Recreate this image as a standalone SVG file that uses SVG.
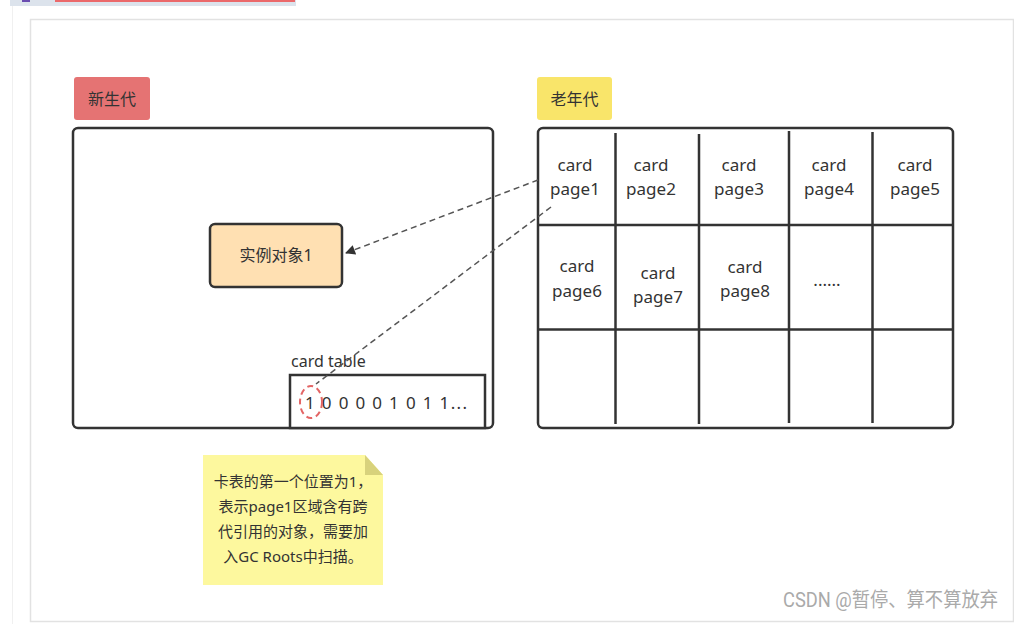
<svg xmlns="http://www.w3.org/2000/svg" width="1014" height="624" viewBox="0 0 1014 624">
<style>
.t{font-family:"Noto Sans","Noto Sans CJK SC",sans-serif;fill:#333;}
.c{font-size:17px;text-anchor:middle;}
.box{fill:none;stroke:#333;stroke-width:2.5;}
.grid{stroke:#333;stroke-width:2.5;}
.dash{fill:none;stroke:#555;stroke-width:1.5;stroke-dasharray:6 4;}
</style>
<defs>
<marker id="ah" viewBox="0 0 10 10" refX="9" refY="5" markerWidth="11" markerHeight="10" orient="auto" markerUnits="userSpaceOnUse">
<path d="M0,0 L10,5 L0,10 z" fill="#333"/>
</marker>
</defs>
<rect width="1014" height="624" fill="#fff"/>
<g id="page-chrome">
<rect x="10" y="0" width="286" height="6" fill="#dce3ec"/>
<line x1="55" y1="1" x2="295" y2="1" stroke="#f04040" stroke-width="1.5"/>
<rect x="22" y="0" width="8" height="2" fill="#6a4cb0"/>
<line x1="12.5" y1="6" x2="12.5" y2="624" stroke="#f0f0f0" stroke-width="1"/>
<rect x="30.5" y="19.5" width="983" height="602" fill="#fff" stroke="#e2e2e2" stroke-width="1.5"/>
</g>
<g id="young-label">
<rect x="74" y="77" width="76" height="43" rx="3" fill="#e57373"/>
<text class="t" x="112" y="105" font-size="16" text-anchor="middle">新生代</text>
</g>
<g id="young-gen">
<rect class="box" x="73" y="128" width="420" height="300" rx="5"/>
</g>
<g id="instance">
<rect x="210" y="224" width="132" height="63" rx="5" fill="#ffe0b2" stroke="#333" stroke-width="2.5"/>
<text class="t" x="276" y="261" font-size="16" text-anchor="middle">实例对象1</text>
</g>
<g id="card-table">
<text class="t" x="291" y="367" font-size="16">card table</text>
<rect x="290" y="375" width="195" height="53" fill="#fff" stroke="#333" stroke-width="2.5"/>
<text class="t" x="305" y="409" font-size="17" textLength="162" lengthAdjust="spacing" xml:space="preserve">1 0 0 0 0 1 0 1 1...</text>
<ellipse cx="311" cy="402" rx="11" ry="16" fill="none" stroke="#e36464" stroke-width="2" stroke-dasharray="6 4"/>
</g>
<g id="old-label">
<rect x="537" y="77" width="75" height="43" rx="3" fill="#f9e56a"/>
<text class="t" x="574.5" y="105" font-size="16" text-anchor="middle">老年代</text>
</g>
<g id="old-gen">
<rect class="box" x="538" y="128" width="415" height="300" rx="5"/>
<line class="grid" x1="615.5" y1="133" x2="615.5" y2="424"/>
<line class="grid" x1="699" y1="134" x2="699" y2="424"/>
<line class="grid" x1="789" y1="131" x2="789" y2="423"/>
<line class="grid" x1="872.5" y1="132" x2="872.5" y2="423"/>
<line class="grid" x1="538" y1="225" x2="953" y2="225"/>
<line class="grid" x1="538" y1="329.5" x2="953" y2="329.5"/>
</g>
<g id="pages">
<text class="t c" x="575" y="171">card</text><text class="t c" x="575" y="195">page1</text>
<text class="t c" x="651" y="171">card</text><text class="t c" x="651" y="195">page2</text>
<text class="t c" x="739" y="171">card</text><text class="t c" x="739" y="195">page3</text>
<text class="t c" x="829" y="171">card</text><text class="t c" x="829" y="195">page4</text>
<text class="t c" x="915" y="171">card</text><text class="t c" x="915" y="195">page5</text>
<text class="t c" x="577" y="272">card</text><text class="t c" x="577" y="297">page6</text>
<text class="t c" x="658" y="279">card</text><text class="t c" x="658" y="303">page7</text>
<text class="t c" x="745" y="273">card</text><text class="t c" x="745" y="297">page8</text>
<text class="t c" x="827" y="286" font-size="14">......</text>
</g>
<g id="note">
<path d="M203,455 L365,455 L383,475 L383,585 L203,585 Z" fill="#fdf89e"/>
<path d="M365,455 L383,475 L365,475 Z" fill="#d8d27c"/>
<g class="t" font-size="15" text-anchor="middle">
<text x="293" y="487">卡表的第一个位置为1，</text>
<text x="293" y="512">表示page1区域含有跨</text>
<text x="293" y="537">代引用的对象，需要加</text>
<text x="293" y="562">入GC Roots中扫描。</text>
</g>
</g>
<g id="connectors">
<line class="dash" x1="538" y1="180" x2="346" y2="253" marker-end="url(#ah)"/>
<line class="dash" x1="551" y1="207" x2="316" y2="384"/>
</g>
<text x="783" y="607" font-family="Roboto,'Noto Sans CJK SC',sans-serif" font-size="20" fill="#aaa" textLength="215" lengthAdjust="spacingAndGlyphs">CSDN @暂停、算不算放弃</text>
</svg>
